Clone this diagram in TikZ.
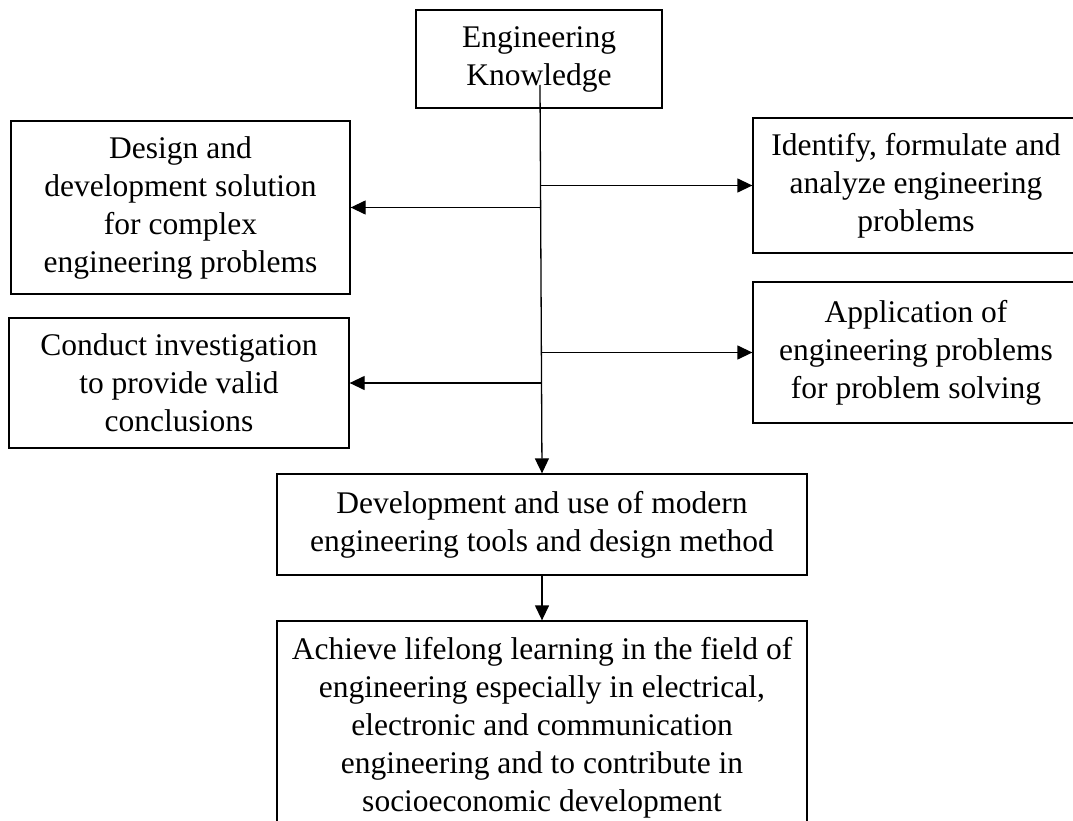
\documentclass[tikz,border=0pt]{standalone}
\usepackage{fontspec}
\setmainfont{Liberation Serif}
\usetikzlibrary{shapes, arrows.meta, positioning}

\begin{document}
\begin{tikzpicture}[x=1pt, y=-1pt,
    box/.style={draw, line width=1.3pt, align=center, inner sep=0pt,
                font=\fontsize{31.5}{38}\selectfont},
    link/.style={->, line width=1.3pt},
    >={Triangle[length=15pt, width=14pt]}]
        \useasboundingbox (0,0) rectangle (1073,821);

        % Khung chính
        \node[box, minimum width=246pt, minimum height=98pt] (knowledge) at (539,59)
            {Engineering\\Knowledge};
        \node[box, minimum width=339pt, minimum height=173pt] (design) at (180.5,207.5)
            {Design and\\development solution\\for complex\\engineering problems};
        \node[box, minimum width=326pt, minimum height=135pt] (identify) at (916,185.5)
            {Identify, formulate and\\analyze engineering\\problems};
        \node[box, minimum width=340pt, minimum height=130pt] (conduct) at (179,383)
            {Conduct investigation\\to provide valid\\conclusions};
        \node[box, minimum width=326pt, minimum height=141pt] (application) at (916,352.5)
            {Application of\\engineering problems\\for problem solving};
        \node[box, minimum width=530pt, minimum height=101pt] (tools) at (542,524.5)
            {Development and use of modern\\engineering tools and design method};
        \node[box, minimum width=530pt, minimum height=214pt] (lifelong) at (542,728)
            {Achieve lifelong learning in the field of\\engineering especially in electrical,\\electronic and communication\\engineering and to contribute in\\socioeconomic development};

        % Trục dọc
        \coordinate (trunk) at (540,85);
        \draw[link] (trunk) -- (tools.north);

        % Các nhánh ngang
        \draw[link] (541,0 |- identify.west) -- (identify.west);
        \draw[link] (541,0 |- design.east) -- (design.east);
        \draw[link] (541,0 |- application.west) -- (application.west);
        \draw[link] (541,0 |- conduct.east) -- (conduct.east);

        % Xuống khung cuối
        \draw[link] (tools.south) -- (lifelong.north);
      \end{tikzpicture}
\end{document}
